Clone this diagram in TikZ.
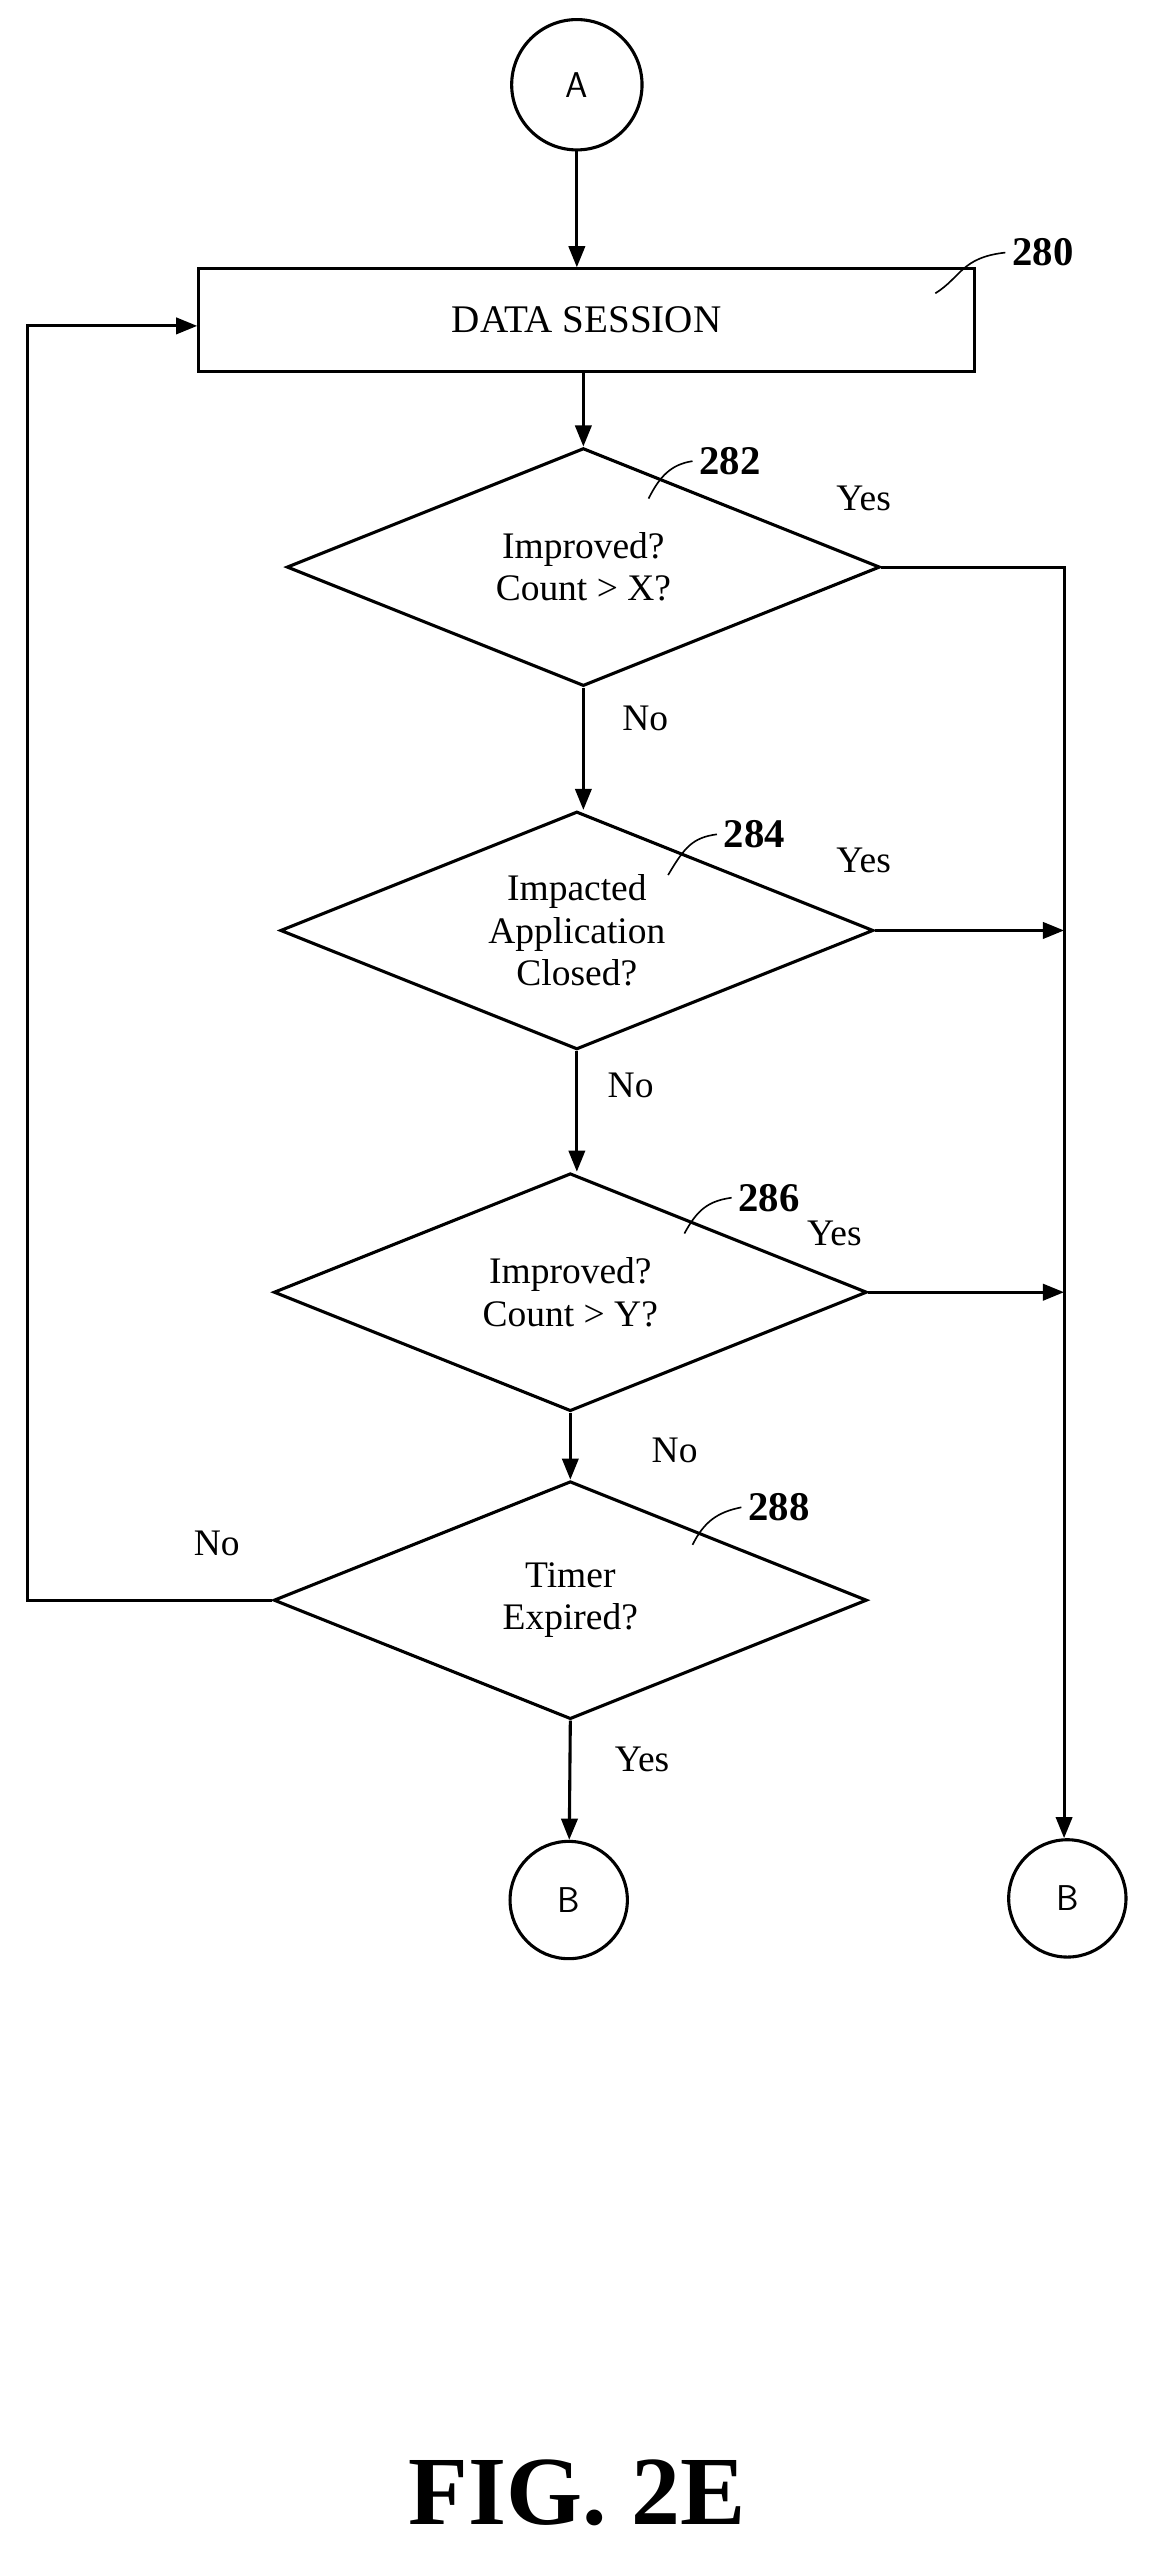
\documentclass[tikz,border=0pt]{standalone}
\usepackage{fontspec}
\setmainfont{Liberation Serif}
\usetikzlibrary{shapes.geometric,arrows.meta}
\begin{document}
\begin{tikzpicture}[x=1pt,y=-1pt,line width=1.9pt,
  >={Triangle[length=13pt,width=10pt]},
  dia/.style={draw,diamond,inner sep=0pt,minimum width=364pt,minimum height=146pt},
  dtxt/.style={align=center,font=\fontsize{23}{26}\selectfont},
  circ/.style={draw,circle,inner sep=0pt,font=\sffamily\fontsize{22}{24}\selectfont},
  lbl/.style={font=\fontsize{23}{25}\selectfont},
  ref/.style={font=\bfseries\fontsize{25}{27}\selectfont},
  lead/.style={line width=1pt}]
\useasboundingbox (0,0) rectangle (709,1579);
\node[circ,minimum size=80pt] (A) at (354,52) {A};
\node[draw,minimum width=476pt,minimum height=63pt,inner sep=0pt,font=\fontsize{24}{26}\selectfont] (ds) at (360,196.5) {DATA SESSION};
\node[dia] (d1) at (358,348) {};
\node[dia] (d2) at (354,571) {};
\node[dia] (d3) at (350,793) {};
\node[dia] (d4) at (350,982) {};
\node[dtxt] (t1) at (d1) {Improved?\\Count > X?};
\node[dtxt] (t2) at (d2) {Impacted\\Application\\Closed?};
\node[dtxt] (t3) at (d3) {Improved?\\Count > Y?};
\node[dtxt] (t4) at (d4) {Timer\\Expired?};
\node[circ,minimum size=72pt] (B1) at (349,1166) {B};
\node[circ,minimum size=72pt] (B2) at (655,1165) {B};
\coordinate (c1) at (653,348);
\coordinate (c2) at (653,571);
\coordinate (c3) at (653,793);
\coordinate (l1) at (17,982);
\coordinate (l2) at (17,200);
\draw[->] (A) -- (ds.north -| A);
\draw[->] (ds.south -| d1.north) -- (d1.north);
\draw[->] (d1.south) -- (d2.north -| d1.south);
\draw[->] (d2.south) -- (d3.north -| d2.south);
\draw[->] (d3.south) -- (d4.north);
\draw[->] (d4.south) -- (B1);
\draw[->] (d1.east) -- (c1) -- (B2.north -| c1);
\draw[->] (d2.east) -- (c2);
\draw[->] (d3.east) -- (c3);
\draw[->] (d4.west) -- (l1) -- (l2) -- (ds.west |- l2);
\node[ref] (r280) at (640,155) {280};
\draw[lead] (574,180) .. controls (590,170) and (590,158) .. (r280.west);
\node[ref] (r282) at (448,283) {282};
\draw[lead] (398,306) .. controls (405,292) and (412,285) .. (r282.west);
\node[ref] (r284) at (463,512) {284};
\draw[lead] (410,537) .. controls (420,520) and (425,514) .. (r284.west);
\node[ref] (r286) at (472,735) {286};
\draw[lead] (420,757) .. controls (428,742) and (435,737) .. (r286.west);
\node[ref] (r288) at (478,925) {288};
\draw[lead] (425,948) .. controls (432,934) and (440,928) .. (r288.west);
\node[lbl] (y1) at (530,306) {Yes};
\node[lbl] (n1) at (396,441) {No};
\node[lbl] (y2) at (530,528) {Yes};
\node[lbl] (n2) at (387,666) {No};
\node[lbl] (y3) at (512,757) {Yes};
\node[lbl] (n3) at (414,890) {No};
\node[lbl] (n4) at (133,947) {No};
\node[lbl] (y4) at (394,1080) {Yes};
\node[font=\bfseries\fontsize{60}{62}\selectfont] (fig) at (354,1530) {FIG. 2E};
\end{tikzpicture}
\end{document}
